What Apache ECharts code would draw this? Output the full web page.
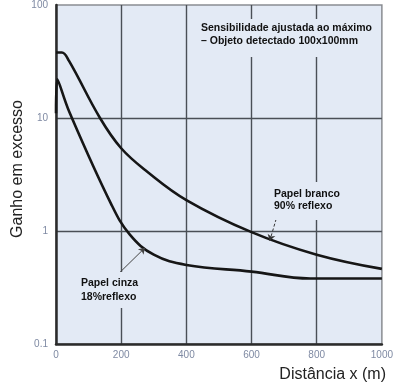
<!DOCTYPE html>
<html><head><meta charset="utf-8">
<script src="https://cdn.jsdelivr.net/npm/echarts@6/dist/echarts.min.js"></script>
<style>html,body{margin:0;padding:0;background:#fff}#c{width:396px;height:387px}</style>
</head><body><div id="c"></div>
<script>
// Tick labels
const xTicks = [0, 200, 400, 600, 800, 1000];
const yTicks = [0.1, 1, 10, 100];
// Papel branco 90% reflexo
const brancoX = [0, 18, 40, 135, 200, 280, 400, 600, 800, 1000];
const brancoY = [38, 38, 32, 10, 5.4, 3.35, 1.88, 0.977, 0.617, 0.462];
// Papel cinza 18% reflexo
const cinzaX = [0, 4, 41, 169, 226, 300, 400, 600, 780, 1000];
const cinzaY = [11, 22, 11.3, 1.74, 0.933, 0.617, 0.501, 0.437, 0.38, 0.38];
// Leader lines (data coords)
const leaderCinza = [[196, 0.43], [273, 0.71]];
const leaderBranco = [[680, 1.41], [656, 0.82]];

const FONT = '"Liberation Sans", Arial, sans-serif';
const BG = '#e3eaf5';
const chart = echarts.init(document.getElementById('c'));
const pairs = (xs, ys) => xs.map((x, i) => [x, ys[i]]);

chart.setOption({
  animation: false,
  grid: { left: 56, right: 4, top: 2, bottom: 43, show: true, backgroundColor: BG, borderColor: '#8a8d92', borderWidth: 1.5 },
  xAxis: {
    type: 'value', min: xTicks[0], max: xTicks[xTicks.length - 1], interval: 200,
    axisLine: { show: true, onZero: false, lineStyle: { color: '#2b2b2b', width: 2.5 } },
    axisTick: { show: false },
    axisLabel: { color: '#7f8aa3', fontSize: 10, fontFamily: FONT, margin: 6, formatter: v => String(v) },
    splitLine: { show: true, showMinLine: false, showMaxLine: false, lineStyle: { color: '#4a4f56', width: 1.4 } }
  },
  yAxis: {
    type: 'log', logBase: 10, min: yTicks[0], max: yTicks[yTicks.length - 1],
    axisLine: { show: true, lineStyle: { color: '#2b2b2b', width: 2.5 } },
    axisTick: { show: false },
    axisLabel: { color: '#7f8aa3', fontSize: 10, fontFamily: FONT, margin: 8, formatter: v => String(+v.toPrecision(3)) },
    splitLine: { show: true, showMinLine: false, showMaxLine: false, lineStyle: { color: '#4a4f56', width: 1.4 } }
  },
  series: [
    {
      name: 'Papel branco', type: 'line', data: pairs(brancoX, brancoY), smooth: 0.4, symbol: 'none',
      lineStyle: { color: '#161616', width: 2.6 },
      markLine: {
        silent: true, symbol: ['none', 'arrow'], symbolSize: 6, label: { show: false },
        lineStyle: { color: '#333', width: 1, type: [3, 2] },
        data: [[{ coord: leaderBranco[0] }, { coord: leaderBranco[1] }]]
      }
    },
    {
      name: 'Papel cinza', type: 'line', data: pairs(cinzaX, cinzaY), smooth: 0.4, symbol: 'none',
      lineStyle: { color: '#161616', width: 2.6 },
      markLine: {
        silent: true, symbol: ['none', 'arrow'], symbolSize: 6, label: { show: false },
        lineStyle: { color: '#444', width: 1, type: 'solid' },
        data: [[{ coord: leaderCinza[0] }, { coord: leaderCinza[1] }]]
      }
    }
  ],
  graphic: [
    { type: 'rect', z: 10, shape: { x: 196, y: 19, width: 180, height: 38 }, style: { fill: BG } },
    { type: 'rect', z: 10, shape: { x: 270, y: 182, width: 72, height: 38 }, style: { fill: BG } },
    { type: 'rect', z: 10, shape: { x: 78, y: 272, width: 62, height: 36 }, style: { fill: BG } },
    { type: 'text', z: 11, x: 201, y: 21.5, style: { text: 'Sensibilidade ajustada ao máximo\n– Objeto detectado 100x100mm', font: 'bold 10.5px ' + FONT, lineHeight: 13, fill: '#111', textAlign: 'left', align: 'left', textVerticalAlign: 'top', verticalAlign: 'top' } },
    { type: 'text', z: 11, x: 274, y: 188, style: { text: 'Papel branco\n90% reflexo', font: 'bold 10.5px ' + FONT, lineHeight: 12, fill: '#111', textAlign: 'left', align: 'left', textVerticalAlign: 'top', verticalAlign: 'top' } },
    { type: 'text', z: 11, x: 81, y: 276, style: { text: 'Papel cinza\n18%reflexo', font: 'bold 10.5px ' + FONT, lineHeight: 14, fill: '#111', textAlign: 'left', align: 'left', textVerticalAlign: 'top', verticalAlign: 'top' } },
    { type: 'text', z: 11, x: 18, y: 169, rotation: Math.PI / 2, style: { text: 'Ganho em excesso', font: '16px ' + FONT, fill: '#222', textAlign: 'center', align: 'center', textVerticalAlign: 'middle', verticalAlign: 'middle' } },
    { type: 'text', z: 11, x: 386, y: 375, style: { text: 'Distância x (m)', font: '16px ' + FONT, fill: '#222', textAlign: 'right', align: 'right', textVerticalAlign: 'middle', verticalAlign: 'middle' } }
  ]
});
</script></body></html>
